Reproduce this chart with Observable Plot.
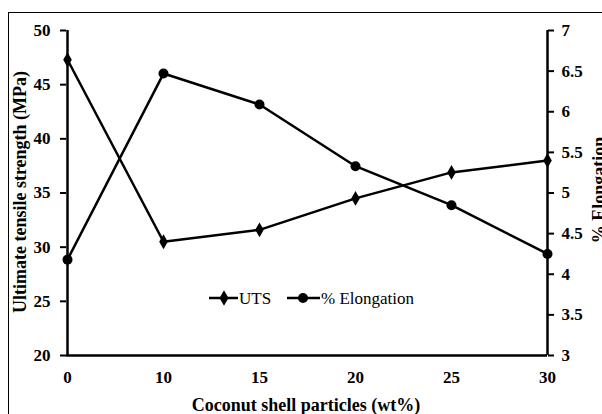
<!DOCTYPE html>
<html>
<head>
<meta charset="utf-8">
<script src="https://cdn.jsdelivr.net/npm/d3@7"></script>
<script src="https://cdn.jsdelivr.net/npm/@observablehq/plot@0.6"></script>
<style>
  html, body { margin: 0; padding: 0; background: white; }
  #wrap { position: relative; width: 602px; height: 414px; overflow: hidden; background: white; }
  #frame { position: absolute; left: 8px; top: 12px; width: 700px; height: 500px; border: 1px solid #000; box-sizing: border-box; pointer-events: none; }
  #chart { position: absolute; left: 0; top: 0; }
</style>
</head>
<body>
<div id="wrap"><div id="chart"></div><div id="frame"></div></div>
<script>
const categories = ["0", "10", "15", "20", "25", "30"];
const uts = [47.3, 30.5, 31.6, 34.5, 36.9, 38.0];
const elongation = [4.18, 6.47, 6.09, 5.33, 4.85, 4.25];
const leftTicks = [20, 25, 30, 35, 40, 45, 50];
const rightTicks = [3, 3.5, 4, 4.5, 5, 5.5, 6, 6.5, 7];

// map right-axis (elongation 3..7) onto left scale (20..50)
const toLeft = e => 20 + (e - 3) * 7.5;
const toRight = v => (v - 20) / 7.5 + 3;

const utsData = categories.map((c, i) => ({x: c, y: uts[i]}));
const elData = categories.map((c, i) => ({x: c, y: toLeft(elongation[i])}));

const font = "'Liberation Serif', 'Times New Roman', serif";

const chart = Plot.plot({
  width: 602,
  height: 414,
  marginLeft: 66,
  marginRight: 55,
  marginTop: 30,
  marginBottom: 59,
  x: {type: "point", domain: categories, padding: 0},
  y: {domain: [20, 50]},
  style: {fontFamily: font, fontSize: "17px", fontWeight: "bold", color: "black", background: "white", overflow: "visible"},
  marks: [
    Plot.ruleY([20], {stroke: "black", strokeWidth: 2.5}),
    Plot.ruleX([categories[0]], {stroke: "black", strokeWidth: 2.5}),
    Plot.ruleX([categories[categories.length - 1]], {stroke: "black", strokeWidth: 2.5}),
    Plot.axisY({ticks: leftTicks, tickSize: 6, tickPadding: 10, strokeWidth: 2, label: null, tickFormat: d => String(d)}),
    Plot.axisY({anchor: "right", ticks: rightTicks.map(toLeft), tickSize: 6, tickPadding: 8, strokeWidth: 2, label: null,
      tickFormat: v => { const r = Math.round(toRight(v) * 10) / 10; return String(r); }}),
    Plot.axisX({tickSize: 0, tickPadding: 15, label: null}),
    Plot.line(utsData, {x: "x", y: "y", stroke: "black", strokeWidth: 2.5}),
    Plot.dot(utsData, {x: "x", y: "y", symbol: "diamond", fill: "black", r: 4.5}),
    Plot.line(elData, {x: "x", y: "y", stroke: "black", strokeWidth: 2.5}),
    Plot.dot(elData, {x: "x", y: "y", symbol: "circle", fill: "black", r: 5})
  ]
});
document.getElementById("chart").appendChild(chart);

const svg = d3.select(chart);
// enforce tick label font on every Plot-generated text
svg.selectAll("g").filter(function() { return this.getAttribute("font-size") || this.getAttribute("font-variant"); })
  .attr("font-size", null);
svg.selectAll("text")
  .style("font-size", "17px").style("font-weight", "bold").style("font-family", font);

// axis titles
svg.append("text")
  .attr("transform", "translate(26,192) rotate(-90)")
  .attr("text-anchor", "middle")
  .style("font-family", font).style("font-size", "18px").style("font-weight", "bold")
  .attr("fill", "black")
  .text("Ultimate tensile strength (MPa)");
svg.append("text")
  .attr("transform", "translate(605,190) rotate(-90)")
  .attr("text-anchor", "middle")
  .style("font-family", font).style("font-size", "18px").style("font-weight", "bold")
  .attr("fill", "black")
  .text("% Elongation");
svg.append("text")
  .attr("x", 306).attr("y", 411)
  .attr("text-anchor", "middle")
  .style("font-family", font).style("font-size", "18px").style("font-weight", "bold")
  .attr("fill", "black")
  .text("Coconut shell particles (wt%)");

// legend
const lg = svg.append("g").style("font-family", font).style("font-size", "17px").style("font-weight", "normal").attr("text-anchor", "start");
const ly = 298;
lg.append("line").attr("x1", 209).attr("x2", 238).attr("y1", ly).attr("y2", ly).attr("stroke", "black").attr("stroke-width", 2.5);
lg.append("path").attr("d", d3.symbol(d3.symbolDiamond, 70)()).attr("transform", `translate(224,${ly})`).attr("fill", "black");
lg.append("text").attr("x", 239).attr("y", ly).attr("dy", "0.35em").attr("fill", "black").text("UTS");
lg.append("line").attr("x1", 287).attr("x2", 320).attr("y1", ly).attr("y2", ly).attr("stroke", "black").attr("stroke-width", 2.5);
lg.append("circle").attr("cx", 303).attr("cy", ly).attr("r", 5).attr("fill", "black");
lg.append("text").attr("x", 321).attr("y", ly).attr("dy", "0.35em").attr("fill", "black").text("% Elongation");
</script>
</body>
</html>
